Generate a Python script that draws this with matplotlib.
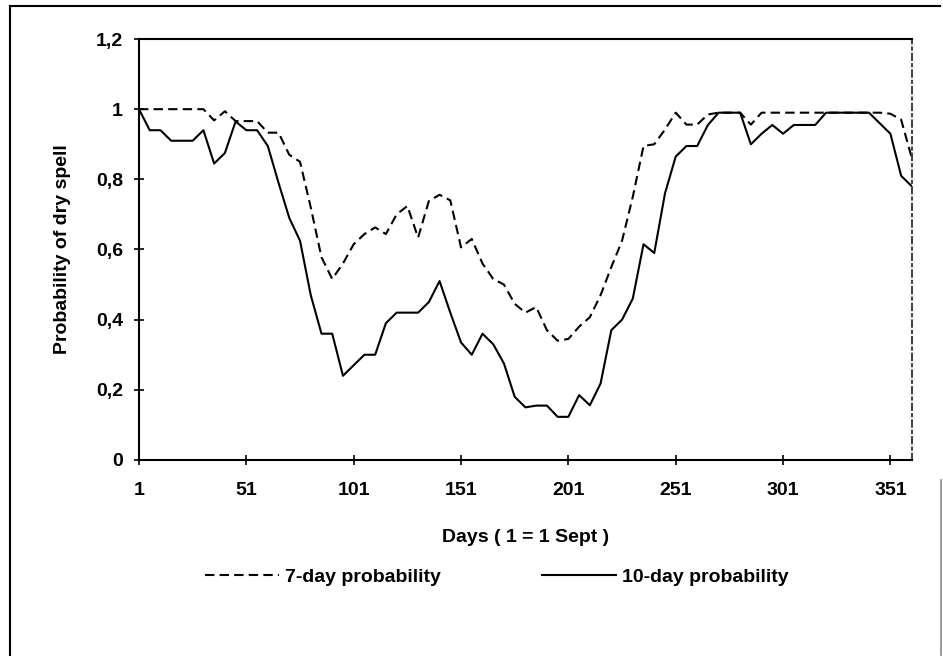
import matplotlib
matplotlib.use("Agg")
import matplotlib.pyplot as plt
from matplotlib import font_manager
from matplotlib.lines import Line2D


# day of season (1 = 1 Sept), sampled every 5 days
days = [
    1, 6, 11, 16, 21, 26, 31, 36, 41, 46,
    51, 56, 61, 66, 71, 76, 81, 86, 91, 96,
    101, 106, 111, 116, 121, 126, 131, 136, 141, 146,
    151, 156, 161, 166, 171, 176, 181, 186, 191, 196,
    201, 206, 211, 216, 221, 226, 231, 236, 241, 246,
    251, 256, 261, 266, 271, 276, 281, 286, 291, 296,
    301, 306, 311, 316, 321, 326, 331, 336, 341, 346,
    351, 356, 361,
]

prob_7day = [
    1.00, 1.00, 1.00, 1.00, 1.00, 1.00, 1.00, 0.968, 0.994, 0.966,
    0.966, 0.966, 0.933, 0.933, 0.87, 0.85, 0.72, 0.578, 0.516, 0.56,
    0.615, 0.644, 0.663, 0.644, 0.70, 0.724, 0.634, 0.738, 0.756, 0.74,
    0.606, 0.63, 0.56, 0.516, 0.50, 0.445, 0.42, 0.436, 0.37, 0.34,
    0.345, 0.38, 0.407, 0.47, 0.55, 0.625, 0.75, 0.895, 0.90, 0.942,
    0.99, 0.956, 0.956, 0.985, 0.99, 0.99, 0.99, 0.956, 0.99, 0.99,
    0.99, 0.99, 0.99, 0.99, 0.99, 0.99, 0.99, 0.99, 0.99, 0.99,
    0.987, 0.97, 0.86,
]

prob_10day = [
    1.00, 0.94, 0.94, 0.91, 0.91, 0.91, 0.94, 0.845, 0.875, 0.965,
    0.94, 0.94, 0.895, 0.79, 0.69, 0.625, 0.47, 0.36, 0.36, 0.24,
    0.27, 0.30, 0.30, 0.39, 0.42, 0.42, 0.42, 0.45, 0.51, 0.42,
    0.335, 0.30, 0.36, 0.33, 0.275, 0.18, 0.15, 0.155, 0.155, 0.123,
    0.123, 0.185, 0.156, 0.218, 0.37, 0.40, 0.46, 0.615, 0.59, 0.76,
    0.865, 0.895, 0.895, 0.955, 0.99, 0.99, 0.99, 0.90, 0.93, 0.955,
    0.93, 0.955, 0.955, 0.955, 0.99, 0.99, 0.99, 0.99, 0.99, 0.96,
    0.93, 0.81, 0.78,
]

x_ticks = [1, 51, 101, 151, 201, 251, 301, 351]
y_ticks = [0, 0.2, 0.4, 0.6, 0.8, 1.0, 1.2]
y_tick_labels = ["0", "0,2", "0,4", "0,6", "0,8", "1", "1,2"]

assert len(days) == len(prob_7day) == len(prob_10day)

names = {f.name for f in font_manager.fontManager.ttflist}
family = "Liberation Sans Narrow" if "Liberation Sans Narrow" in names else "Liberation Sans"
plt.rcParams["font.family"] = [family, "DejaVu Sans"]
plt.rcParams["font.weight"] = "bold"

fig = plt.figure(figsize=(9.43, 6.59), dpi=100)
ax = fig.add_axes([0.1474, 0.302, 0.8196, 0.6388])

ax.plot(days, prob_7day, color="black", linewidth=1.5, linestyle=(0, (4.5, 2.5)),
        label="7-day probability")
ax.plot(days, prob_10day, color="black", linewidth=1.5, label="10-day probability")

ax.set_xlim(1, 361)
ax.set_ylim(0, 1.2)
ax.set_xticks(x_ticks)
ax.set_xticklabels([str(d) for d in x_ticks])
ax.set_yticks(y_ticks)
ax.set_yticklabels(y_tick_labels)
ax.tick_params(axis="both", direction="inout", length=7, width=1.2,
               labelsize=14, colors="black")
ax.tick_params(axis="x", pad=12)
ax.tick_params(axis="y", pad=8)

for side in ["left", "bottom", "top"]:
    ax.spines[side].set_linewidth(1.5)
ax.spines["right"].set_linewidth(1.5)
ax.spines["right"].set_linestyle((0, (3, 2, 1, 2)))
ax.spines["right"].set_color("#444444")

ax.set_xlabel("Days ( 1 = 1 Sept )", fontsize=14, fontweight="bold", labelpad=22)
ax.set_ylabel("Probability of dry spell", fontsize=14, fontweight="bold", labelpad=18)

fig.legend(loc="center", bbox_to_anchor=(0.527, 0.124), ncol=2, frameon=False,
           fontsize=14, handlelength=3.8, handletextpad=0.3, columnspacing=5.2)

# outer frame of the chart object
fig.add_artist(Line2D([10 / 943, 10 / 943], [1 - 655 / 659, 1 - 6 / 659],
                      transform=fig.transFigure, color="black", linewidth=1.5))
fig.add_artist(Line2D([10 / 943, 940 / 943], [1 - 6 / 659, 1 - 6 / 659],
                      transform=fig.transFigure, color="black", linewidth=1.5))
fig.add_artist(Line2D([941 / 943, 941 / 943], [1 - 655 / 659, 1 - 480 / 659],
                      transform=fig.transFigure, color="#888888", linewidth=1.2))

fig.savefig("out.png", dpi=100)
plt.close(fig)
